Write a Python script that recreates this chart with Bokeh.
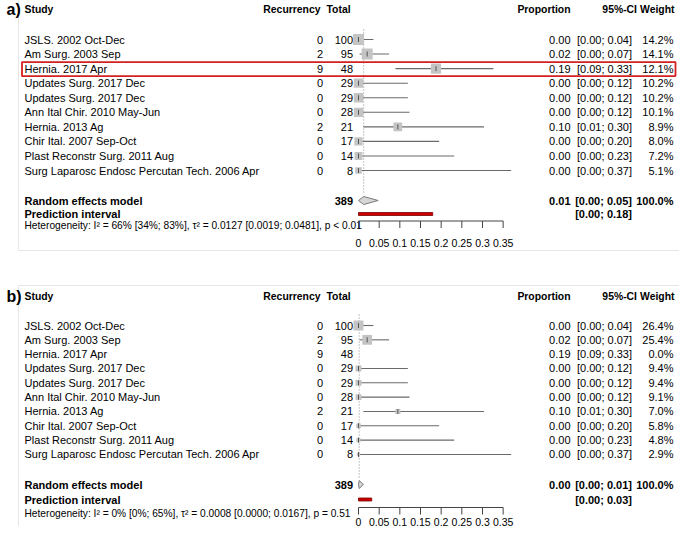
from bokeh.plotting import figure
from bokeh.models import Range1d, ColumnDataSource
from bokeh.embed import file_html
from bokeh.resources import INLINE
from bokeh.core.properties import value

# ---------------- data ----------------
studies = ["JSLS. 2002 Oct-Dec", "Am Surg. 2003 Sep", "Hernia. 2017 Apr",
           "Updates Surg. 2017 Dec", "Updates Surg. 2017 Dec",
           "Ann Ital Chir. 2010 May-Jun", "Hernia. 2013 Ag",
           "Chir Ital. 2007 Sep-Oct", "Plast Reconstr Surg. 2011 Aug",
           "Surg Laparosc Endosc Percutan Tech. 2006 Apr"]
events = [0, 2, 9, 0, 0, 0, 2, 0, 0, 0]
totals = [100, 95, 48, 29, 29, 28, 21, 17, 14, 8]
prop = [0.0, 0.021, 0.1875, 0.0, 0.0, 0.0, 0.0952, 0.0, 0.0, 0.0]
ci_lo = [0.0, 0.0026, 0.0895, 0.0, 0.0, 0.0, 0.0117, 0.0, 0.0, 0.0]
ci_hi = [0.0362, 0.0740, 0.3263, 0.1194, 0.1194, 0.1234, 0.3038, 0.1951, 0.2316, 0.3694]
weight_a = [14.2, 14.1, 12.1, 10.2, 10.2, 10.1, 8.9, 8.0, 7.2, 5.1]
weight_b = [26.4, 25.4, 0.0, 9.4, 9.4, 9.1, 7.0, 5.8, 4.8, 2.9]

# random effects model: estimate, lower, upper, prediction lower, prediction upper
re_a = [0.0125, 0.0, 0.0476, 0.0, 0.1796]
re_b = [0.0017, 0.0, 0.0119, 0.0, 0.032]
het_a = "Heterogeneity: I\u00b2 = 66% [34%; 83%], \u03c4\u00b2 = 0.0127 [0.0019; 0.0481], p < 0.01"
het_b = "Heterogeneity: I\u00b2 = 0% [0%; 65%], \u03c4\u00b2 = 0.0008 [0.0000; 0.0167], p = 0.51"

tick_vals = [0, 0.05, 0.1, 0.15, 0.2, 0.25, 0.3, 0.35]
tick_labels = ["0", "0.05", "0.1", "0.15", "0.2", "0.25", "0.3", "0.35"]
headers = ["Study", "Recurrency", "Total", "Proportion", "95%-CI", "Weight"]

# ---------------- layout ----------------
X0, SC = 366.0, 413.3          # page px of proportion 0, px per unit


def px(v):
    return (v - X0) / SC


W, H = 679, 526
p = figure(width=W, height=H, x_range=Range1d(px(8), px(8 + W)),
           y_range=Range1d(8 + H, 8), output_backend="svg",
           toolbar_location=None, x_axis_location=None, y_axis_location=None,
           min_border=0)
p.outline_line_color = None
p.grid.visible = False
p.background_fill_color = "white"

FONT = value("Liberation Sans")
FS = value("11px")
HFS = value("10.4px")


def txt(x, y, t, align="left", bold=False, size=FS, color="black"):
    p.text(x=x, y=y, text=t, text_font=FONT, text_font_size=size,
           text_font_style="bold" if bold else "normal", text_align=align,
           text_baseline="middle", text_color=color)


def f2(v):
    return f"{v:.2f}"


panels = [
    dict(lab="a)", w=weight_a, re=re_a, het=het_a, hy=17, r0=47, rh=14.56,
         rey=208, piy=221.5, hety=233, axy=228.5, tly=250, dtop=37, dbot=202,
         sq=11),
    dict(lab="b)", w=weight_b, re=re_b, het=het_b, hy=304, r0=333, rh=14.33,
         rey=492, piy=507, hety=521, axy=515, tly=529, dtop=322, dbot=487,
         sq=10),
]

# faint panel borders
p.segment(x0=[px(26), px(26), px(26), px(26)], x1=[px(688), px(26), px(688), px(26)],
          y0=[258, 8, 293, 293], y1=[258, 258, 293, 534],
          line_color="#e6e6e6", line_width=1)

for pn in panels:
    ys = [pn["r0"] + i * pn["rh"] for i in range(len(studies))]
    w = pn["w"]
    wmax = max(w)
    shown = [i for i in range(len(studies)) if w[i] > 0]

    # panel label and headers
    txt([px(14)], [pn["hy"]], [pn["lab"]], bold=True, size=value("16px"))
    txt([px(32)], [pn["hy"]], [headers[0]], bold=True, size=HFS)
    txt([px(328)], [pn["hy"]], [headers[1]], align="right", bold=True, size=HFS)
    txt([px(334)], [pn["hy"]], [headers[2]], bold=True, size=HFS)
    txt([px(578)], [pn["hy"]], [headers[3]], align="right", bold=True, size=HFS)
    txt([px(644.5)], [pn["hy"]], [headers[4]], align="right", bold=True, size=HFS)
    txt([px(682)], [pn["hy"]], [headers[5]], align="right", bold=True, size=HFS)

    # study rows text
    txt([px(32)] * len(ys), ys, studies)
    txt([px(330.5)] * len(ys), ys, [str(e) for e in events], align="right")
    txt([px(360.5)] * len(ys), ys, [str(t) for t in totals], align="right")
    txt([px(578)] * len(ys), ys, [f2(v) for v in prop], align="right")
    txt([px(639.5)] * len(ys), ys,
        [f"[{f2(a)}; {f2(b)}]" for a, b in zip(ci_lo, ci_hi)], align="right")
    txt([px(681)] * len(ys), ys, [f"{v:.1f}%" for v in w], align="right")

    # reference dotted line at pooled estimate
    p.segment(x0=[pn["re"][0]], x1=[pn["re"][0]], y0=[pn["dtop"]], y1=[pn["dbot"]],
              line_color="#8c8c8c", line_dash="1 2", line_width=1)

    # CI lines, squares, estimate ticks
    src = ColumnDataSource(dict(
        y=[ys[i] for i in shown], lo=[ci_lo[i] for i in shown],
        hi=[ci_hi[i] for i in shown], est=[prop[i] for i in shown],
        size=[pn["sq"] * (w[i] / wmax) ** 0.5 for i in shown],
        yt=[ys[i] - 2.5 for i in shown], yb=[ys[i] + 2.5 for i in shown]))
    p.segment(x0="lo", x1="hi", y0="y", y1="y", source=src,
              line_color="#6a6a6a", line_width=1.1)
    p.scatter(x="est", y="y", size="size", marker="square", source=src,
              fill_color="#c4c4c4", line_color=None)
    p.segment(x0="est", x1="est", y0="yt", y1="yb", source=src,
              line_color="#555555", line_width=1)

    # random effects model
    est, lo, hi, plo, phi = pn["re"]
    yr = pn["rey"]
    p.patch(x=[lo, est, hi, est], y=[yr, yr - 4, yr, yr + 4],
            fill_color="#d6d6d6", line_color="#7a7a7a", line_width=1)
    txt([px(32)], [yr], ["Random effects model"], bold=True)
    txt([px(360.5)], [yr], [str(sum(totals))], align="right", bold=True)
    txt([px(578)], [yr], [f2(est)], align="right", bold=True)
    txt([px(639.5)], [yr], [f"[{f2(lo)}; {f2(hi)}]"], align="right", bold=True)
    txt([px(681)], [yr], ["100.0%"], align="right", bold=True)

    # prediction interval
    yp = pn["piy"]
    p.quad(left=[plo], right=[phi], top=[yp - 1.5], bottom=[yp + 1.5],
           fill_color="#cc0000", line_color="#7a0000", line_width=0.8)
    txt([px(32)], [yp], ["Prediction interval"], bold=True)
    txt([px(639.5)], [yp], [f"[{f2(plo)}; {f2(phi)}]"], align="right", bold=True)

    # heterogeneity
    txt([px(32)], [pn["hety"]], [pn["het"]], size=value("10.2px"))

    # x axis
    ya = pn["axy"]
    p.segment(x0=[tick_vals[0]], x1=[tick_vals[-1]], y0=[ya], y1=[ya],
              line_color="#444444", line_width=1)
    p.segment(x0=tick_vals, x1=tick_vals, y0=[ya] * len(tick_vals),
              y1=[ya + 7] * len(tick_vals), line_color="#444444", line_width=1)
    txt(tick_vals, [pn["tly"]] * len(tick_vals), tick_labels, align="center",
        size=value("10.5px"))

# highlight box around Hernia. 2017 Apr in panel a
hi_row = 2
yc = panels[0]["r0"] + hi_row * panels[0]["rh"]
p.quad(left=[px(29.5)], right=[px(683)], top=[yc - 6.5], bottom=[yc + 7.5],
       fill_color=None, line_color="#d42020", line_width=1.8)

open("out.html", "w").write(file_html(p, INLINE))
